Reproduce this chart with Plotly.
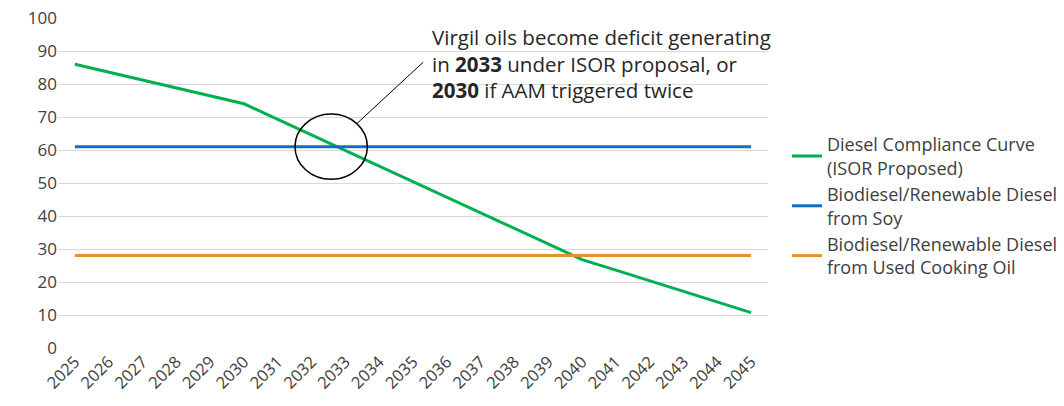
import plotly.graph_objects as go

years = [str(y) for y in range(2025, 2046)]

compliance_curve = [86.0, 83.6, 81.2, 78.8, 76.4, 74.0, 69.3, 64.6, 59.9, 55.2, 50.5,
                    45.8, 41.1, 36.4, 31.7, 26.8, 23.6, 20.4, 17.1, 13.9, 10.7]
soy = [61.0] * len(years)
used_cooking_oil = [28.0] * len(years)

series = [
    ("Diesel Compliance Curve<br>(ISOR Proposed)", compliance_curve, "#00b050"),
    ("Biodiesel/Renewable Diesel<br>from Soy", soy, "#0f6fc6"),
    ("Biodiesel/Renewable Diesel<br>from Used Cooking Oil", used_cooking_oil, "#e8912b"),
]

fig = go.Figure()
for name, values, color in series:
    fig.add_trace(go.Scatter(x=years, y=values, mode="lines", name=name,
                             line=dict(color=color, width=3)))

fig.update_layout(
    width=1064, height=406,
    margin=dict(l=58, r=296, t=18, b=58, autoexpand=False),
    paper_bgcolor="white", plot_bgcolor="white",
    font=dict(family="Open Sans", size=16, color="#404040"),
    showlegend=True,
    legend=dict(x=1.0267, xanchor="left", y=0.43, yanchor="middle",
                font=dict(size=18, color="#404040"), itemwidth=30,
                bgcolor="rgba(0,0,0,0)"),
    xaxis=dict(type="category", range=[-0.5, 20.5], tickangle=-45,
               showgrid=False, showline=False, ticks="", automargin=False,
               tickfont=dict(size=16.5, color="#404040")),
    yaxis=dict(range=[0, 100], dtick=10, showgrid=True, gridcolor="#d9d9d9",
               gridwidth=1, zeroline=False, showline=False, ticks="", automargin=False,
               ticklabeloverflow="allow",
               tickfont=dict(size=17, color="#404040")),
)

# circle around the soy / compliance crossing and its leader line
fig.add_shape(type="circle", xref="x", yref="y", x0=6.51, x1=8.65, y0=51.1, y1=70.9,
              line=dict(color="black", width=1.5))
fig.add_shape(type="line", xref="x", yref="y", x0=8.35, y0=68.1, x1=10.3, y1=86.6,
              line=dict(color="black", width=1))

fig.add_annotation(
    x=10.51, y=99.2, xref="x", yref="y", xanchor="left", yanchor="top",
    align="left", showarrow=False,
    text="Virgil oils become deficit generating<br>in <b>2033</b> under ISOR proposal, or"
         "<br><b>2030</b> if AAM triggered twice",
    font=dict(family="Open Sans", size=20.5, color="#262626"),
)

# drop the browser's default body margin so the figure fills the window
fig.write_html("out.html", config={"displayModeBar": False},
               post_script="document.body.style.margin = '0'; document.body.style.overflow = 'hidden';")
